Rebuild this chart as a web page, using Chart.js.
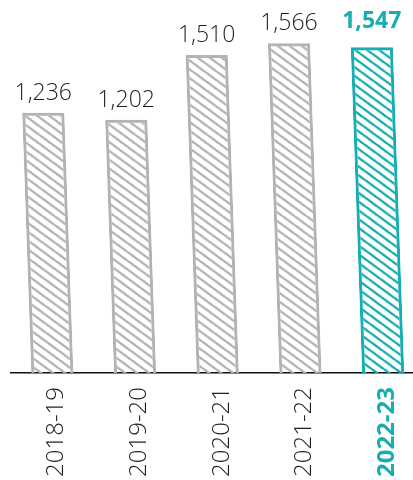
<!DOCTYPE html>
<html><head><meta charset="utf-8">
<script src="https://cdn.jsdelivr.net/npm/chart.js@4"></script>
<style>html,body{margin:0;padding:0;background:#fff;overflow:hidden;width:413px;height:480px}canvas{display:block}</style>
</head><body>
<canvas id="c" width="426" height="480"></canvas>
<script>
const categories = ["2018-19", "2019-20", "2020-21", "2021-22", "2022-23"];
const values = [1236, 1202, 1510, 1566, 1547];
const valueLabels = ["1,236", "1,202", "1,510", "1,566", "1,547"];

const GRAY = "#b4b2b7", TEAL = "#17aeb3", TEXT = "#1e1e1e";
const SHEAR = 0.035;
const isLast = i => i === categories.length - 1;

function hatch(color) {
  const W = 12, H = 9.3;
  const cv = document.createElement("canvas");
  cv.width = W; cv.height = H;
  const g = cv.getContext("2d");
  g.strokeStyle = color; g.lineWidth = 2.3; g.lineCap = "round";
  for (const dx of [-W, 0, W]) {
    g.beginPath(); g.moveTo(dx - W, -H); g.lineTo(dx + 2 * W, 2 * H); g.stroke();
  }
  return g.createPattern(cv, "repeat");
}
const ctx = document.getElementById("c").getContext("2d");
const patGray = hatch(GRAY), patTeal = hatch(TEAL);

const shearPlugin = {
  id: "shear",
  beforeDatasetsDraw(chart) {
    const c = chart.ctx, base = chart.chartArea.bottom;
    c.save();
    c.transform(1, 0, SHEAR, 1, -SHEAR * base, 0);
  },
  afterDatasetsDraw(chart) {
    const c = chart.ctx;
    c.restore();
    const meta = chart.getDatasetMeta(0);
    c.save();
    c.textAlign = "center";
    c.textBaseline = "alphabetic";
    meta.data.forEach((el, i) => {
      const x = el.x + SHEAR * (el.y - el.base);
      c.font = (isLast(i) ? "bold " : "300 ") + "23px 'Open Sans'";
      c.fillStyle = isLast(i) ? TEAL : TEXT;
      c.fillText(valueLabels[i], x, el.y - (isLast(i) ? 19 : 13));
    });
    c.restore();
  }
};

new Chart(ctx, {
  type: "bar",
  data: {
    labels: categories,
    datasets: [{
      data: values,
      backgroundColor: categories.map((_, i) => isLast(i) ? patTeal : patGray),
      borderColor: categories.map((_, i) => isLast(i) ? TEAL : GRAY),
      borderWidth: 3,
      barPercentage: 0.51,
      categoryPercentage: 1
    }]
  },
  options: {
    responsive: false,
    animation: false,
    events: [],
    layout: { autoPadding: false, padding: { left: 11, right: 0, top: 15, bottom: 0 } },
    plugins: { legend: { display: false }, tooltip: { enabled: false } },
    scales: {
      y: { display: false, min: 0, max: 1700 },
      x: {
        afterFit(scale) { scale.height = 107; },
        grid: { display: false, drawTicks: false },
        border: { display: true, color: "#111", width: 1.5 },
        ticks: {
          minRotation: 90, maxRotation: 90, autoSkip: false,
          padding: 14, labelOffset: 4,
          color: c => isLast(c.index) ? TEAL : TEXT,
          font: c => ({ family: "'Open Sans'", size: 24, weight: isLast(c.index) ? "bold" : "300" })
        }
      }
    }
  },
  plugins: [shearPlugin]
});
</script>
</body></html>
